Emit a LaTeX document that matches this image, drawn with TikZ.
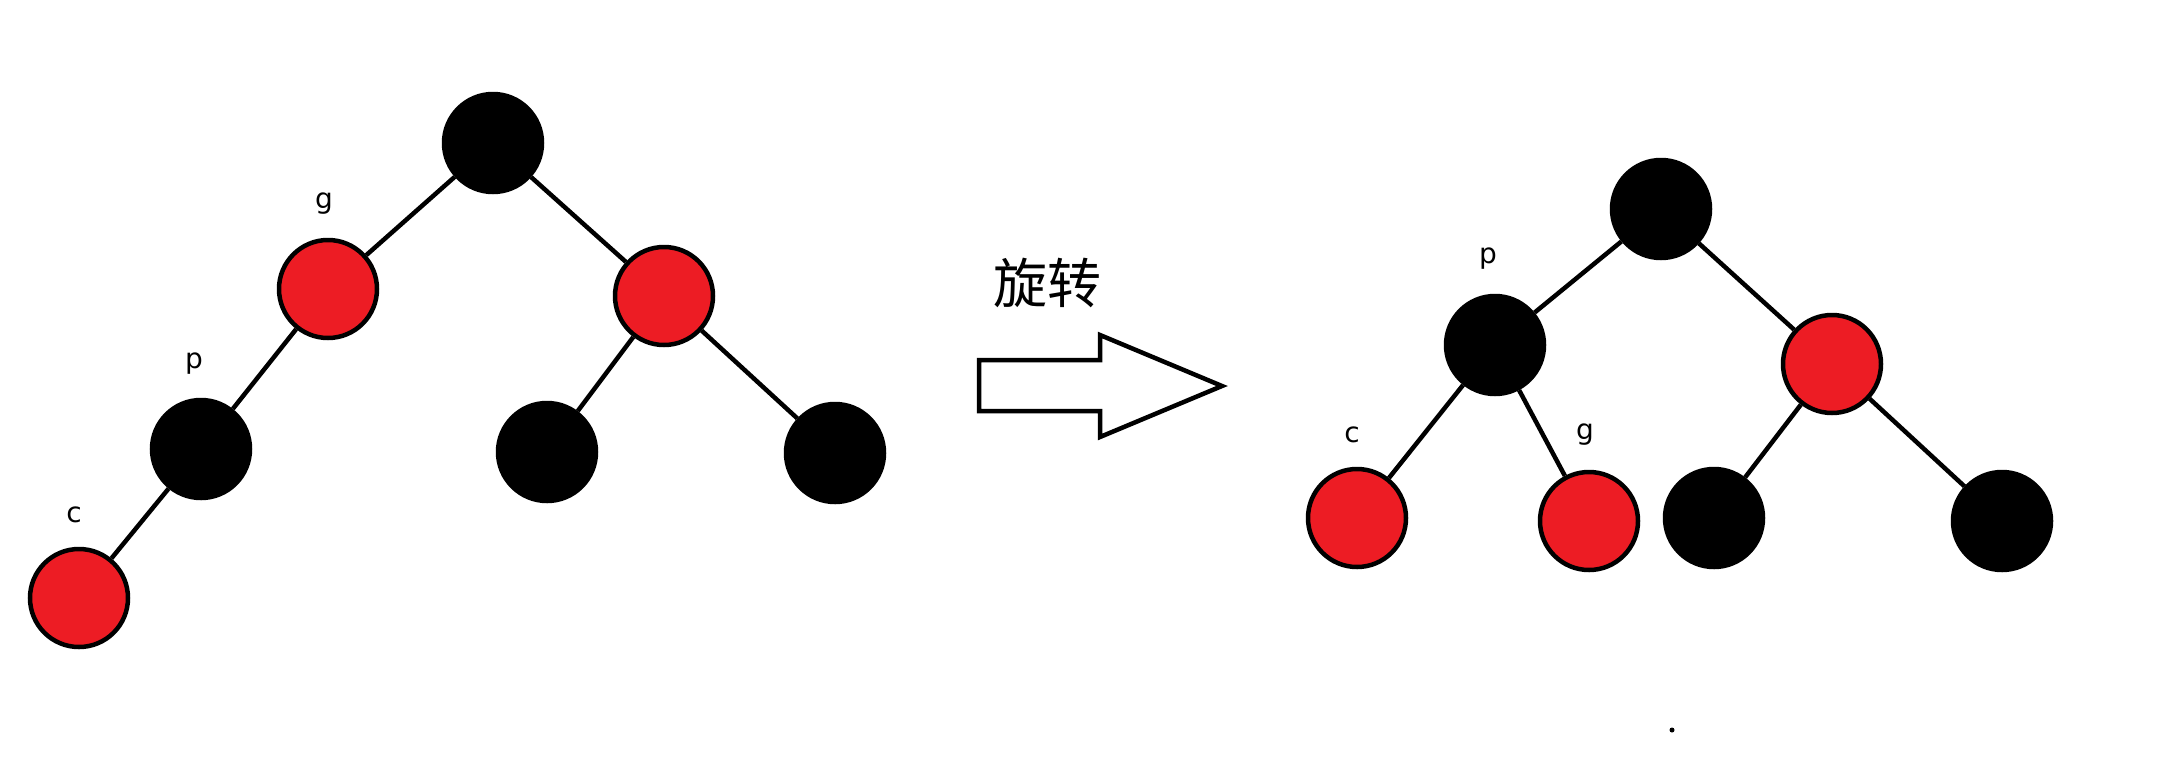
\documentclass[tikz,border=0pt]{standalone}
\usepackage{fontspec}
\setmainfont{Noto Sans CJK SC}
\newfontfamily\lblfont{DejaVu Sans}
\definecolor{rbred}{HTML}{ED1C24}
\begin{document}
\begin{tikzpicture}[x=1pt,y=-1pt,
  nd/.style={circle,draw=black,line width=4.5pt,minimum size=98pt,inner sep=0pt},
  rn/.style={nd,fill=rbred},
  bn/.style={nd,fill=black},
  edge/.style={line width=4.5pt},
  lbl/.style={font=\lblfont\fontsize{28}{32}\selectfont,inner sep=0pt}]
\useasboundingbox[fill=white] (0,0) rectangle (2161,764);
% left tree
\node[bn] (L0) at (493,143) {};
\node[rn] (Lg) at (328,289) {};
\node[rn] (Lr) at (664,296) {};
\node[bn] (Lp) at (201,449) {};
\node[rn] (Lc) at (79,598) {};
\node[bn] (Lb1) at (547,452) {};
\node[bn] (Lb2) at (835,453) {};
\draw[edge] (L0) -- (Lg);
\draw[edge] (L0) -- (Lr);
\draw[edge] (Lg) -- (Lp);
\draw[edge] (Lp) -- (Lc);
\draw[edge] (Lr) -- (Lb1);
\draw[edge] (Lr) -- (Lb2);
\node[lbl] (tLg) at (324,204) {g};
\node[lbl] (tLp) at (194,364) {p};
\node[lbl] (tLc) at (74,515) {c};
% arrow
\node[font=\fontsize{54}{60}\selectfont,inner sep=0pt] (rot) at (1047,283) {旋转};
\draw[line width=4.5pt,line join=miter] (979,360) -- (1100,360) -- (1100,335) -- (1222,386) -- (1100,437) -- (1100,411) -- (979,411) -- cycle;
% right tree
\node[bn] (R0) at (1661,209) {};
\node[bn] (Rp) at (1495,345) {};
\node[rn] (Rr) at (1832,364) {};
\node[rn] (Rc) at (1357,518) {};
\node[rn] (Rg) at (1589,521) {};
\node[bn] (Rb1) at (1714,518) {};
\node[bn] (Rb2) at (2002,521) {};
\draw[edge] (R0) -- (Rp);
\draw[edge] (R0) -- (Rr);
\draw[edge] (Rp) -- (Rc);
\draw[edge] (Rp) -- (Rg);
\draw[edge] (Rr) -- (Rb1);
\draw[edge] (Rr) -- (Rb2);
\node[lbl] (tRp) at (1488,259) {p};
\node[lbl] (tRc) at (1352,435) {c};
\node[lbl] (tRg) at (1585,435) {g};
\fill (1672,730) circle (2.5pt);
\end{tikzpicture}
\end{document}
